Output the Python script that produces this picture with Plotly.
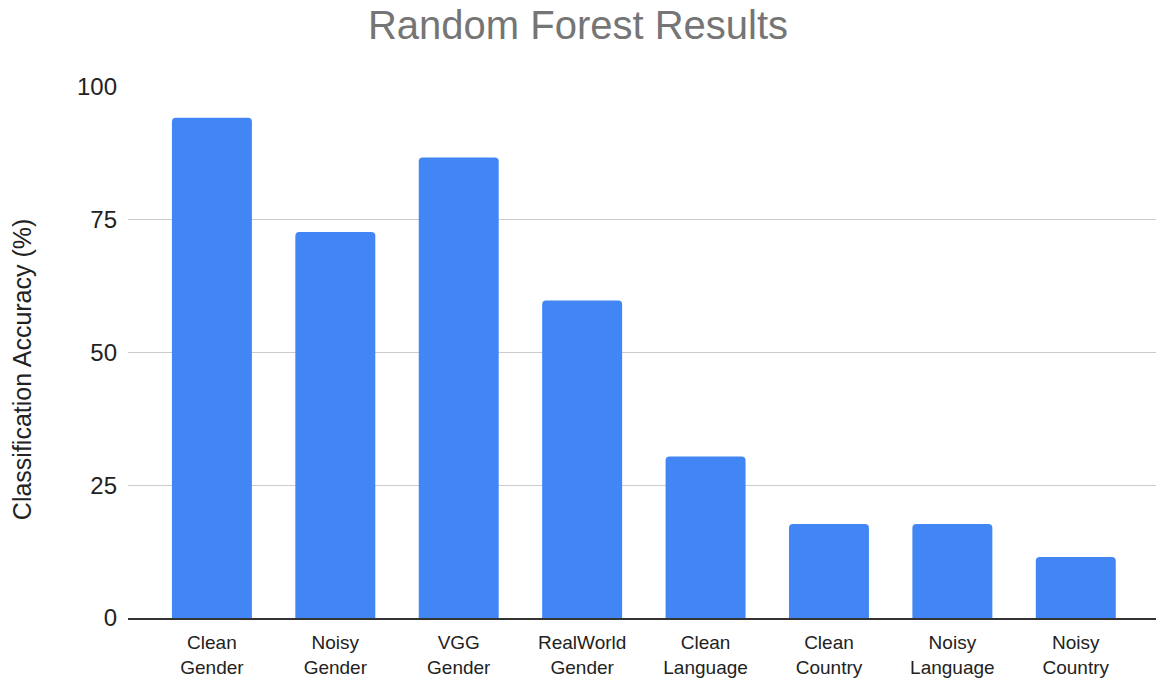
import plotly.graph_objects as go

# Classification accuracy (%) of the random forest per dataset / task
categories = [
    "Clean<br>Gender", "Noisy<br>Gender", "VGG<br>Gender", "RealWorld<br>Gender",
    "Clean<br>Language", "Clean<br>Country", "Noisy<br>Language", "Noisy<br>Country",
]
accuracy = [94.2, 72.7, 86.7, 59.8, 30.4, 17.7, 17.7, 11.5]
y_ticks = [0, 25, 50, 75, 100]

FONT = "Liberation Sans, Arial, sans-serif"

fig = go.Figure(
    go.Bar(
        x=list(range(len(categories))),
        y=accuracy,
        marker=dict(color="#4285F4", cornerradius=4, line=dict(width=0)),
        hoverinfo="y",
    )
)

fig.update_layout(
    width=1156,
    height=682,
    margin=dict(l=128, r=0, t=87, b=64),
    paper_bgcolor="white",
    plot_bgcolor="white",
    bargap=0.352,
    showlegend=False,
    title=dict(
        text="Random Forest Results",
        x=0.5,
        xref="container",
        xanchor="center",
        y=0.963,
        yref="container",
        yanchor="middle",
        font=dict(family=FONT, size=40, color="#757575"),
    ),
    font=dict(family=FONT, color="#222222"),
    annotations=[
        dict(
            text="Classification Accuracy (%)",
            textangle=-90,
            xref="paper",
            yref="paper",
            x=-0.103,
            y=0.467,
            xanchor="center",
            yanchor="middle",
            showarrow=False,
            font=dict(family=FONT, size=25, color="#222222"),
        )
    ],
)

fig.update_xaxes(
    tickmode="array",
    tickvals=list(range(len(categories))),
    ticktext=categories,
    range=[-0.68, 7.65],
    showgrid=False,
    showline=True,
    linecolor="#333333",
    linewidth=2,
    ticks="",
    tickfont=dict(family=FONT, size=19, color="#222222"),
    ticklabelstandoff=6,
)

fig.update_yaxes(
    range=[0, 100],
    tickmode="array",
    tickvals=y_ticks,
    ticktext=[str(v) for v in y_ticks],
    showgrid=True,
    gridcolor="#cccccc",
    gridwidth=1,
    zeroline=False,
    showline=False,
    ticks="",
    tickfont=dict(family=FONT, size=24, color="#222222"),
    ticklabelstandoff=10,
)

fig.write_html("out.html")
